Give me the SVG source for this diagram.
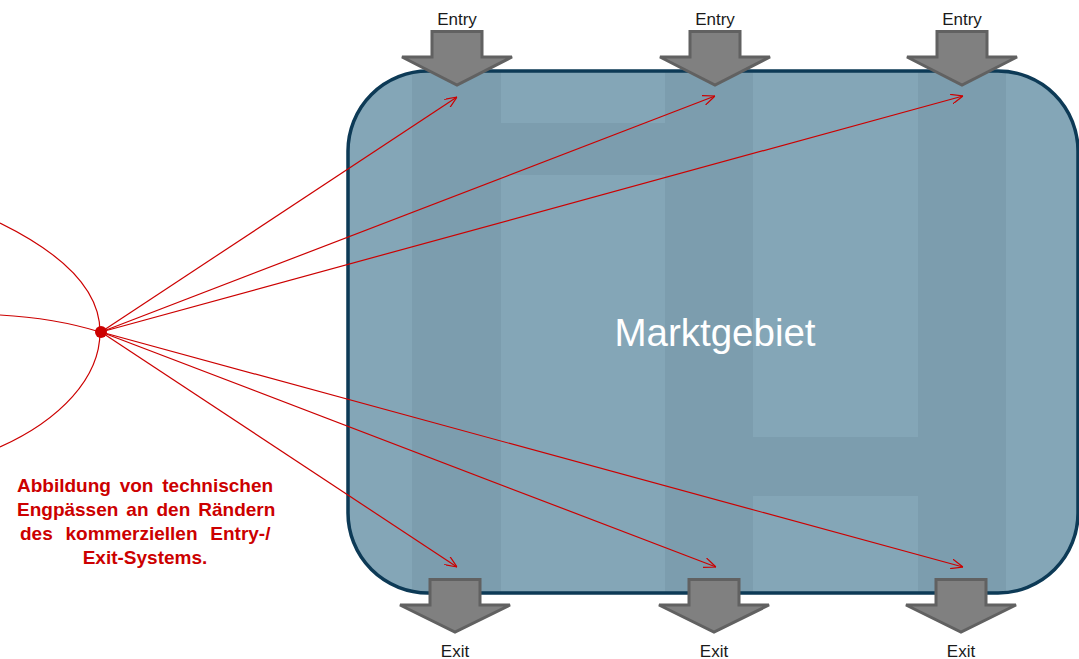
<svg xmlns="http://www.w3.org/2000/svg" width="1079" height="659" viewBox="0 0 1079 659">
  <style>
    .lbl { font-family: "Liberation Sans", Arial, sans-serif; font-size: 17px; fill: #1a1a1a; text-anchor: middle; }
    .blk { fill: #808080; stroke: #616161; stroke-width: 3; stroke-linejoin: miter; }
    .red { stroke: #cc0000; stroke-width: 1.2; fill: none; }
    .note { font-family: "Liberation Sans", Arial, sans-serif; font-size: 19px; font-weight: bold; fill: #cc0000; }
    .lite { fill: #84a6b7; }
    .dark { fill: #7c9dae; }
  </style>
  <defs>
    <clipPath id="areaClip">
      <rect x="348" y="71" width="730" height="522" rx="80" ry="80"/>
    </clipPath>
    <marker id="vee" viewBox="0 0 12 10" refX="12" refY="5" markerWidth="12" markerHeight="10" markerUnits="userSpaceOnUse" orient="auto">
      <path d="M0,0 L12,5 L0,10" fill="none" stroke="#cc0000" stroke-width="1.2"/>
    </marker>
  </defs>

  <rect width="1079" height="659" fill="#ffffff"/>

  <!-- market area -->
  <g id="marktgebiet">
    <g clip-path="url(#areaClip)">
      <rect class="lite" x="348" y="71" width="730" height="522"/>
      <rect class="dark" x="412" y="71" width="89" height="522"/>
      <rect class="dark" x="665" y="71" width="88" height="522"/>
      <rect class="dark" x="918" y="71" width="88" height="522"/>
      <rect class="dark" x="501" y="123" width="164" height="52"/>
      <rect class="dark" x="753" y="437" width="165" height="59"/>
    </g>
    <rect x="348" y="71" width="730" height="522" rx="80" ry="80" fill="none" stroke="#0d3a56" stroke-width="3.5"/>
    <text x="715" y="346" font-family="Liberation Sans, Arial, sans-serif" font-size="38.5" fill="#ffffff" text-anchor="middle">Marktgebiet</text>
  </g>

  <!-- entry points -->
  <g id="entry1">
    <polygon class="blk" points="432,31.5 482,31.5 482,57 512,57 457,85 402,57 432,57"/>
    <text class="lbl" x="457" y="25">Entry</text>
  </g>
  <g id="entry2">
    <polygon class="blk" points="690,31.5 740,31.5 740,57 770,57 715,85 660,57 690,57"/>
    <text class="lbl" x="715" y="25">Entry</text>
  </g>
  <g id="entry3">
    <polygon class="blk" points="937,31.5 987,31.5 987,57 1017,57 962,85 907,57 937,57"/>
    <text class="lbl" x="962" y="25">Entry</text>
  </g>

  <!-- exit points -->
  <g id="exit1">
    <polygon class="blk" points="430,579.5 480,579.5 480,605 510,605 455,632 400,605 430,605"/>
    <text class="lbl" x="455" y="657">Exit</text>
  </g>
  <g id="exit2">
    <polygon class="blk" points="689,579.5 739,579.5 739,605 769,605 714,632 659,605 689,605"/>
    <text class="lbl" x="714" y="657">Exit</text>
  </g>
  <g id="exit3">
    <polygon class="blk" points="936,579.5 986,579.5 986,605 1016,605 961,632 906,605 936,605"/>
    <text class="lbl" x="961" y="657">Exit</text>
  </g>

  <!-- connectors -->
  <g id="connectors">
    <path class="red" d="M0,223 C55,250 100,285 100,332 C100,378 60,420 0,447"/>
    <path class="red" d="M0,315 Q55,318 100,332"/>
    <line class="red" x1="101" y1="332" x2="457" y2="97" marker-end="url(#vee)"/>
    <line class="red" x1="101" y1="332" x2="715" y2="96" marker-end="url(#vee)"/>
    <line class="red" x1="101" y1="332" x2="963" y2="96" marker-end="url(#vee)"/>
    <line class="red" x1="101" y1="332" x2="457" y2="567" marker-end="url(#vee)"/>
    <line class="red" x1="101" y1="332" x2="716" y2="567" marker-end="url(#vee)"/>
    <line class="red" x1="101" y1="332" x2="963" y2="567" marker-end="url(#vee)"/>
  </g>

  <g id="hub">
    <circle cx="101" cy="332" r="6" fill="#cc0000"/>
  </g>

  <!-- caption, justified through word spacing -->
  <g id="caption">
    <text class="note" x="17" y="492" word-spacing="3.5">Abbildung von technischen</text>
    <text class="note" x="17" y="516" word-spacing="2.7">Engpässen an den Rändern</text>
    <text class="note" x="20" y="540" word-spacing="7.5">des kommerziellen Entry-/</text>
    <text class="note" x="145" y="564" text-anchor="middle">Exit-Systems.</text>
  </g>
</svg>
